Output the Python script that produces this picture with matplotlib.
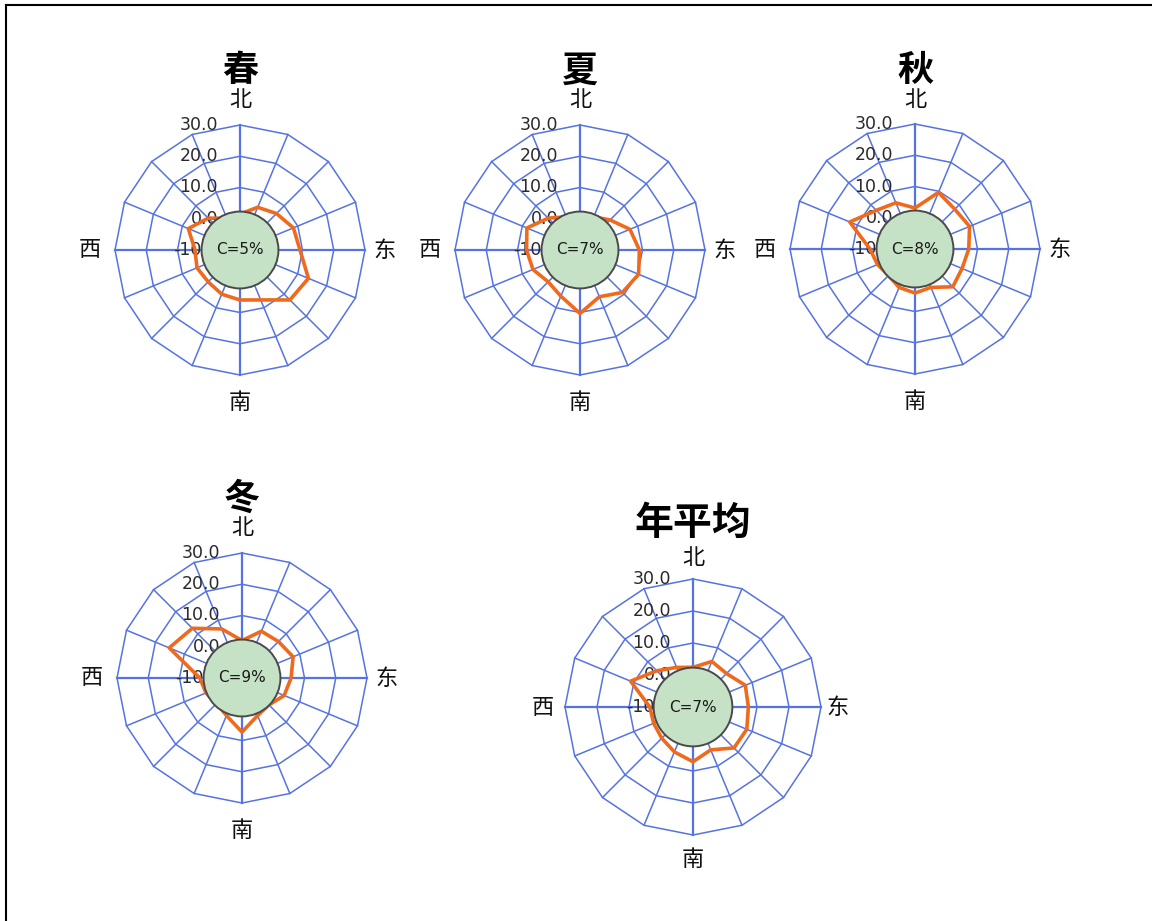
import numpy as np
import matplotlib
matplotlib.use('Agg')
import matplotlib.pyplot as plt
from matplotlib.patches import Circle
from matplotlib.lines import Line2D

plt.rcParams['font.family'] = ['Noto Sans CJK SC', 'DejaVu Sans']

# 16 wind directions, clockwise from north
directions = ['N', 'NNE', 'NE', 'ENE', 'E', 'ESE', 'SE', 'SSE',
              'S', 'SSW', 'SW', 'WSW', 'W', 'WNW', 'NW', 'NNW']

# wind frequency (%) per direction
spring = [1.5, 4.8, 6.5, 8.5, 9.2, 13.7, 12.6, 7.3, 6.0, 5.3, 4.4, 4.9, 4.4, 7.9, 4.4, 1.0]
summer = [1.0, 1.5, 3.6, 7.3, 9.0, 10.3, 9.2, 6.2, 10.3, 6.0, 4.4, 6.3, 7.1, 8.4, 4.4, 1.5]
autumn = [3.1, 9.6, 8.0, 8.9, 7.2, 6.3, 7.1, 3.3, 4.1, 3.3, 2.0, 3.0, 4.4, 12.6, 7.5, 6.0]
winter = [2.0, 6.2, 6.5, 7.7, 5.7, 4.6, 2.2, 3.0, 7.3, 3.0, 1.5, 2.5, 3.5, 15.2, 12.5, 7.0]
annual = [2.4, 5.4, 4.8, 7.7, 7.3, 8.2, 8.1, 4.5, 7.1, 5.2, 3.8, 3.3, 3.5, 11.1, 6.0, 3.4]

calm = [5, 7, 8, 9, 7]
titles = ['春', '夏', '秋', '冬', '年平均']
ring_ticks = [-10, 0, 10, 20, 30]
compass = ['北', '东', '南', '西']

W, H = 1152, 921
GRID = '#5573e2'
ORANGE = '#f06a1e'
RMIN, RMAX = -10, 30
CIRCLE_R = 2.3


def add_rose(fig, cx, cy, rad, values, c, title, title_off, title_size):
    ax = fig.add_axes([(cx - rad) / W, (H - cy - rad) / H, 2 * rad / W, 2 * rad / H],
                      projection='polar')
    ax.set_theta_zero_location('N')
    ax.set_theta_direction(-1)
    ax.set_ylim(RMIN, RMAX)
    ax.set_xticks([])
    ax.set_yticks([])
    ax.grid(False)
    ax.spines['polar'].set_visible(False)
    ax.patch.set_visible(False)

    theta = np.linspace(0, 2 * np.pi, len(directions), endpoint=False)
    closed = np.append(theta, theta[0])

    # polygon rings
    for v in ring_ticks[1:]:
        ax.plot(closed, [v] * len(closed), color=GRID, lw=1.1, clip_on=False, zorder=1)
    # spokes
    for i, t in enumerate(theta):
        lw = 1.6 if i % 4 == 0 else 1.1
        ax.plot([t, t], [RMIN, RMAX], color=GRID, lw=lw, clip_on=False, zorder=1)

    # ring labels
    for v in ring_ticks:
        ax.annotate(f'{v:.1f}', xy=(0, v), xytext=(-22, 0), textcoords='offset pixels',
                    ha='right', va='center', fontsize=12.5, family='DejaVu Sans',
                    color='#2a2a2a', zorder=2, annotation_clip=False)

    # frequency polygon
    ax.plot(closed, np.append(values, values[0]), color=ORANGE, lw=2.6,
            clip_on=False, zorder=3)

    # calm circle
    cr = 0.5 * (CIRCLE_R - RMIN) / (RMAX - RMIN)
    ax.add_patch(Circle((0.5, 0.5), cr, transform=ax.transAxes, facecolor='#c6e2c6',
                        edgecolor='#4a4a4a', lw=1.4, zorder=4, clip_on=False))
    ax.text(0.5, 0.5, f'C={c}%', transform=ax.transAxes, ha='center', va='center',
            fontsize=11, family='DejaVu Sans', color='#1a1a1a', zorder=5)

    # compass labels
    offs = {'北': (0, 150), '东': (145, 0), '南': (0, -152), '西': (-150, 0)}
    for lab in compass:
        ax.annotate(lab, xy=(0.5, 0.5), xycoords='axes fraction', xytext=offs[lab],
                    textcoords='offset pixels', ha='center', va='center', fontsize=16,
                    color='#111111', annotation_clip=False)

    ax.annotate(title, xy=(0.5, 0.5), xycoords='axes fraction', xytext=(0, title_off),
                textcoords='offset pixels', ha='center', va='center',
                fontsize=title_size, fontweight='bold', color='black',
                annotation_clip=False)
    return ax


fig = plt.figure(figsize=(W / 100, H / 100), dpi=100)
fig.patch.set_facecolor('white')

add_rose(fig, 240, 250, 125, spring, calm[0], titles[0], 179, 26)
add_rose(fig, 580, 250, 125, summer, calm[1], titles[1], 179, 26)
add_rose(fig, 915, 249, 125, autumn, calm[2], titles[2], 179, 26)
add_rose(fig, 242, 678, 125, winter, calm[3], titles[3], 179, 26)
add_rose(fig, 693, 707, 128, annual, calm[4], titles[4], 184, 28)

# border on top and left
fig.add_artist(Line2D([6 / W, 1], [1 - 5 / H, 1 - 5 / H], transform=fig.transFigure,
                      color='black', lw=1.5))
fig.add_artist(Line2D([6 / W, 6 / W], [0, 1 - 5 / H], transform=fig.transFigure,
                      color='black', lw=1.5))

fig.savefig('out.png', dpi=100)
